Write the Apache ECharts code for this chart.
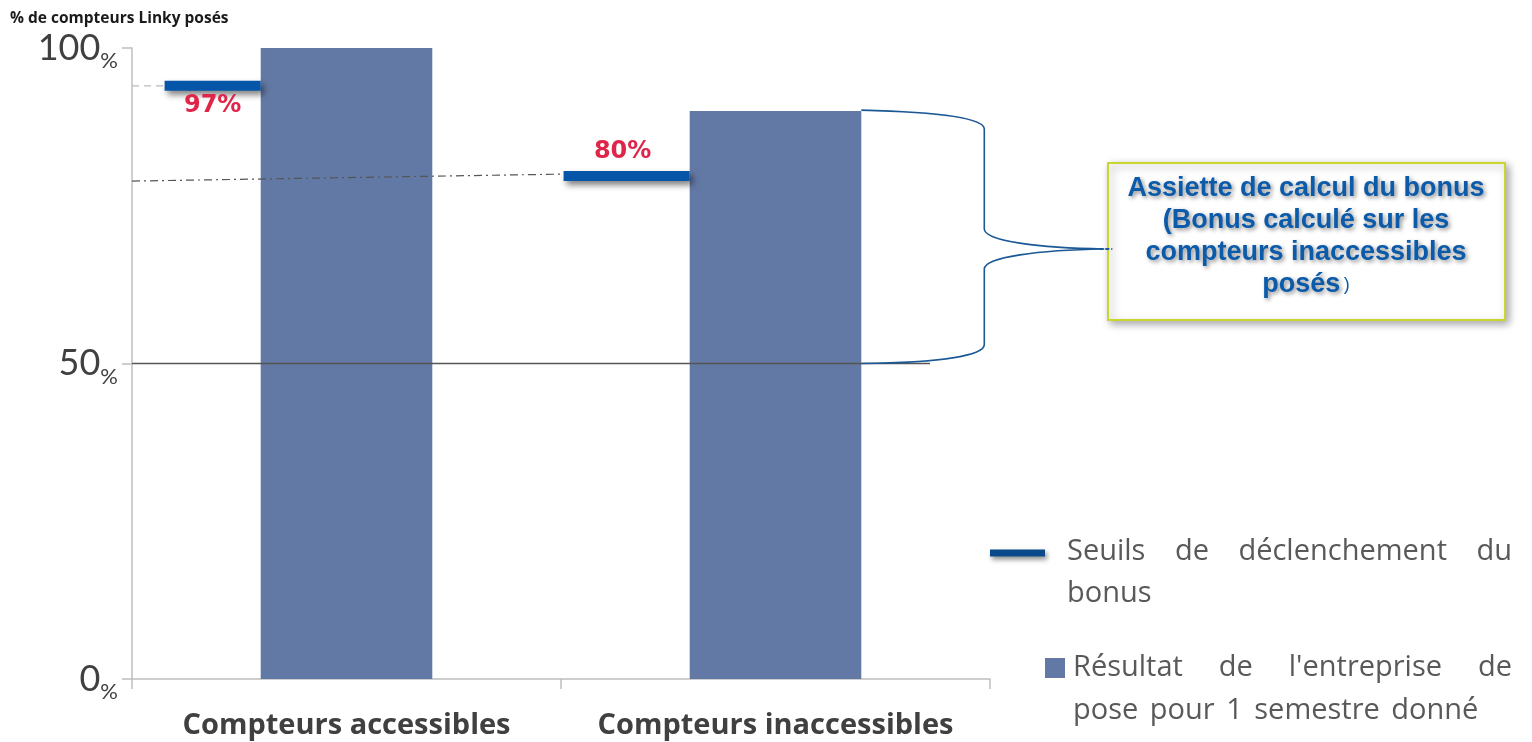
<!DOCTYPE html>
<html>
<head>
<meta charset="utf-8">
<script src="https://cdn.jsdelivr.net/npm/echarts@6/dist/echarts.min.js"></script>
<style>
html,body{margin:0;padding:0;background:#fff;}
#chart{width:1532px;height:742px;}
</style>
</head>
<body>
<div id="chart"></div>
<script>
// ---- data ----
const categories = ['Compteurs accessibles', 'Compteurs inaccessibles'];
const resultValues = [100, 90];
const thresholdValues = [94, 79.7];
const thresholdLabels = ['97%', '80%'];
const yTickLabels = ['0', '50', '100'];
const yAxisTitle = '% de compteurs Linky posés';
const braceRange = [90, 50];
const annotationLines = ['Assiette de calcul du bonus', '(Bonus calculé sur les', 'compteurs inaccessibles', 'posés'];
const legendThresholdLines = ['Seuils de déclenchement du', 'bonus'];
const legendResultLines = ["Résultat de l'entreprise de", 'pose pour 1 semestre donné'];

// ---- styles ----
const BAR_COLOR = '#6379A5';
const MARK_COLOR = '#0556A8';
const BRACE_COLOR = '#1B5996';
const RED = '#E0254A';
const GREY_TXT = '#404040';
const LEGEND_FONT = '29px "Open Sans"';
const ANNOT_FONT = 'bold 27px "Liberation Sans"';

const chart = echarts.init(document.getElementById('chart'), null, {renderer: 'canvas'});

const ctx = document.createElement('canvas').getContext('2d');
function justifiedWords(line, x0, x1, y, justify, extraGap) {
  const words = line.split(' ');
  ctx.font = LEGEND_FONT;
  const widths = words.map(w => ctx.measureText(w).width);
  const total = widths.reduce((a, b) => a + b, 0);
  const gap = justify && words.length > 1 ? (x1 - x0 - total) / (words.length - 1) : ctx.measureText(' ').width + (extraGap || 0);
  let x = x0;
  return words.map((w, k) => {
    const el = {type: 'text', x: x, y: y, style: {text: w, font: LEGEND_FONT, fill: '#595959', textVerticalAlign: 'middle'}};
    x += widths[k] + gap;
    return el;
  });
}

const startFrac = [0.424, 0.494];
const labelDy = [20, -24];
const labelDx = [0, -4];
const annotShadow = {textShadowColor: 'rgba(0,0,0,0.45)', textShadowBlur: 4, textShadowOffsetX: 2, textShadowOffsetY: 2};

const option = {
  animation: false,
  grid: {left: 132, right: 542, top: 48, bottom: 63, containLabel: false},
  xAxis: {
    type: 'category',
    data: categories,
    axisLine: {lineStyle: {color: '#bfbfbf', width: 1.5}},
    axisTick: {show: true, length: 10, lineStyle: {color: '#bfbfbf', width: 1.5}},
    axisLabel: {interval: 0, hideOverlap: false, color: GREY_TXT, fontFamily: 'Open Sans', fontWeight: 'bold', fontSize: 29, margin: 32}
  },
  yAxis: {
    type: 'value', min: 0, max: 100, interval: 50,
    axisLine: {show: true, lineStyle: {color: '#bfbfbf', width: 1.5}},
    axisTick: {show: true, length: 10, lineStyle: {color: '#bfbfbf', width: 1.5}},
    splitLine: {show: false},
    axisLabel: {
      margin: 14,
      formatter: function (v) { return '{a|' + yTickLabels[[0, 50, 100].indexOf(v)] + '}{b|%}'; },
      rich: {
        a: {fontFamily: 'Lato', fontSize: 36, color: GREY_TXT, verticalAlign: 'bottom'},
        b: {fontFamily: 'Lato', fontSize: 22, color: GREY_TXT, verticalAlign: 'bottom', padding: [0, 0, -6, 0]}
      }
    }
  },
  series: [
    {
      type: 'bar', data: resultValues, barWidth: '40%', z: 2,
      itemStyle: {color: BAR_COLOR}
    },
    {
      type: 'custom', z: 5,
      data: thresholdValues.map((v, i) => [i, v]),
      renderItem: function (params, api) {
        const i = api.value(0), v = api.value(1);
        const c = api.coord([i, v]);
        const bw = api.size([1, 0])[0];
        const barLeft = c[0] - bw * 0.2;
        const start = c[0] - bw * startFrac[i];
        const cs = params.coordSys;
        const children = [];
        if (i === 0) {
          children.push({type: 'line', shape: {x1: cs.x, y1: c[1], x2: start, y2: c[1]},
            style: {stroke: '#bbbbbb', lineWidth: 1.3, lineDash: [7, 5]}});
        } else {
          children.push({type: 'line', shape: {x1: cs.x, y1: c[1] + 5, x2: start, y2: c[1] - 2},
            style: {stroke: '#555555', lineWidth: 1.2, lineDash: [8, 4, 2, 4]}});
        }
        children.push({type: 'rect', shape: {x: start, y: c[1] - 5, width: barLeft - start, height: 10},
          style: {fill: MARK_COLOR, shadowColor: 'rgba(0,0,0,0.5)', shadowBlur: 6, shadowOffsetX: 3, shadowOffsetY: 4}});
        children.push({type: 'text', x: (start + barLeft) / 2 + labelDx[i], y: c[1] + labelDy[i],
          style: {text: thresholdLabels[i], font: 'bold 24px "DejaVu Sans"', fill: RED, textAlign: 'center', textVerticalAlign: 'middle'}});
        return {type: 'group', children: children};
      }
    },
    {
      type: 'custom', z: 4,
      data: [[1, braceRange[0], braceRange[1]]],
      renderItem: function (params, api) {
        const i = api.value(0);
        const top = api.coord([i, api.value(1)]);
        const bot = api.coord([i, api.value(2)]);
        const bw = api.size([1, 0])[0];
        const x0 = top[0] + bw * 0.2;
        const cs = params.coordSys;
        const t = top[1] - 1, b = bot[1];
        const xv = x0 + 123, xt = x0 + 243;
        const tip = t + (b - t) * 0.548;
        const d = 'M' + x0 + ' ' + t +
          ' C' + (x0 + 80) + ' ' + (t + 2) + ' ' + xv + ' ' + (t + 8) + ' ' + xv + ' ' + (t + 19) +
          ' L' + xv + ' ' + (tip - 20) +
          ' C' + xv + ' ' + (tip - 8) + ' ' + (xv + 55) + ' ' + (tip - 1) + ' ' + xt + ' ' + tip +
          ' C' + (xv + 55) + ' ' + (tip + 1) + ' ' + xv + ' ' + (tip + 8) + ' ' + xv + ' ' + (tip + 20) +
          ' L' + xv + ' ' + (b - 19) +
          ' C' + xv + ' ' + (b - 8) + ' ' + (x0 + 80) + ' ' + (b - 1) + ' ' + x0 + ' ' + b;
        return {type: 'group', children: [
          {type: 'line', shape: {x1: cs.x, y1: b, x2: cs.x + cs.width - 60, y2: b},
            style: {stroke: '#555555', lineWidth: 1.5}},
          {type: 'path', shape: {pathData: d}, style: {fill: null, stroke: BRACE_COLOR, lineWidth: 1.6}},
          {type: 'line', shape: {x1: xt - 5, y1: tip, x2: xt + 8, y2: tip}, style: {stroke: BRACE_COLOR, lineWidth: 2, lineDash: [4, 2]}}
        ]};
      }
    }
  ],
  graphic: [
    {type: 'text', left: 10, top: 11, style: {text: yAxisTitle, font: 'bold 15.5px "Open Sans"', fill: '#1a1a1a'}},
    {type: 'rect', shape: {x: 1108, y: 163, width: 397, height: 157},
      style: {fill: '#ffffff', stroke: '#C8D62E', lineWidth: 2, shadowColor: 'rgba(0,0,0,0.35)', shadowBlur: 8, shadowOffsetX: 3, shadowOffsetY: 3}, z: 1},
  ].concat(annotationLines.map((ln, k) => ({
      type: 'text', x: 1306, y: 189 + k * 32, z: 2,
      style: k === annotationLines.length - 1 ? {
        text: '{a|' + ln + '} {b|)}', textAlign: 'center', textVerticalAlign: 'middle',
        rich: {
          a: Object.assign({font: ANNOT_FONT, fill: '#0B5BAA'}, annotShadow),
          b: {font: '18px "Liberation Sans"', fill: '#0B5BAA'}
        }
      } : Object.assign({
        text: ln, font: ANNOT_FONT, fill: '#0B5BAA', textAlign: 'center', textVerticalAlign: 'middle'
      }, annotShadow)
  }))).concat([
    {type: 'line', shape: {x1: 990, y1: 553, x2: 1045, y2: 553},
      style: {stroke: '#0B4A8A', lineWidth: 7, shadowColor: 'rgba(0,0,0,0.45)', shadowBlur: 5, shadowOffsetX: 2, shadowOffsetY: 3}},
    {type: 'rect', shape: {x: 1045, y: 658, width: 20, height: 20}, style: {fill: BAR_COLOR}}
  ]).concat(justifiedWords(legendThresholdLines[0], 1067, 1512, 552, true))
    .concat(justifiedWords(legendThresholdLines[1], 1067, 1512, 594, false))
    .concat(justifiedWords(legendResultLines[0], 1073, 1512, 668, true))
    .concat(justifiedWords(legendResultLines[1], 1073, 1512, 711, false, 4))
};

chart.setOption(option);
</script>
</body>
</html>
